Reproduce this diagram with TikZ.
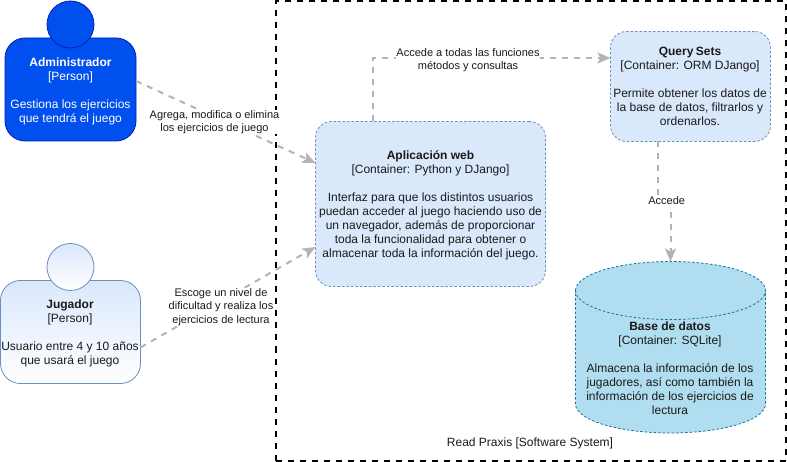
\documentclass[tikz,border=0pt]{standalone}
\usepackage{fontspec}
\setmainfont{Liberation Sans}
\usetikzlibrary{arrows.meta}
\definecolor{admfill}{HTML}{0050EF}
\definecolor{admline}{HTML}{001DBC}
\definecolor{contfill}{HTML}{DAE8FC}
\definecolor{contline}{HTML}{6C8EBF}
\definecolor{dbfill}{HTML}{B1DDF0}
\definecolor{dbline}{HTML}{10739E}
\definecolor{conn}{HTML}{B3B3B3}
\definecolor{ink}{HTML}{1A1A1A}
\tikzset{
  every node/.style={outer sep=0pt},
  txt/.style={align=center,inner sep=0pt,text=ink,font=\fontsize{12}{14}\selectfont},
  whitetxt/.style={txt,text=white},
  lbl/.style={align=center,inner sep=0.5pt,fill=white,text=ink,font=\fontsize{11}{13.2}\selectfont},
  adminbody/.style={draw=admline,fill=admfill,rounded corners=20pt,line width=0.8pt,minimum width=131pt,minimum height=103pt,inner sep=0pt},
  adminhead/.style={draw=admline,fill=admfill,circle,line width=0.8pt,minimum size=47pt,inner sep=0pt},
  playerbody/.style={draw=contline,top color=contfill,bottom color=white,rounded corners=20pt,line width=0.8pt,minimum width=140pt,minimum height=103pt,inner sep=0pt},
  playerhead/.style={draw=contline,top color=contfill,bottom color=white,circle,line width=0.8pt,minimum size=47pt,inner sep=0pt},
  contbox/.style={draw=contline,fill=contfill,rounded corners=16pt,line width=0.8pt,dash pattern=on 2.5pt off 2pt,inner sep=0pt},
  sysbox/.style={draw=black,line width=2pt,dash pattern=on 6pt off 6pt,minimum width=510pt,minimum height=459pt,inner sep=0pt},
  dbshape/.style={draw=dbline,fill=dbfill,line width=0.8pt,dash pattern=on 2.5pt off 2pt},
  conntr/.style={draw=conn,line width=2pt,dash pattern=on 6pt off 6pt,-{Stealth[length=13pt,width=11pt,inset=3pt]}},
}
\begin{document}
\begin{tikzpicture}[x=1pt,y=-1pt]
\useasboundingbox (0,0) rectangle (787,462);
\fill[white] (0,0) rectangle (787,462);
% system boundary
\node[sysbox,anchor=north west] (sys) at (275.5,1.5) {};
\node[txt] (systxt) at (530,443) {Read Praxis [Software System]};
% persons
\node[adminbody,anchor=north west] (adm) at (5,38) {};
\node[adminhead] (admh) at (70.5,24.5) {};
\node[whitetxt] (admt) at (70.5,91.5) {\textbf{Administrador}\\{[Person]}\\[14pt]Gestiona los ejercicios\\que tendrá el juego};
\node[playerbody,anchor=north west] (pla) at (0.5,280.5) {};
\node[playerhead] (plah) at (70.5,267) {};
\node[txt] (plat) at (70,333) {\textbf{Jugador}\\{[Person]}\\[14pt]Usuario entre 4 y 10 años\\que usará el juego};
% containers
\node[contbox,anchor=north west,minimum width=230pt,minimum height=165pt] (app) at (315.5,121.5) {};
\node[txt] (appt) at (430.5,205) {\textbf{Aplicación web}\\{[Container: Python y DJango]}\\[14pt]Interfaz para que los distintos usuarios\\puedan acceder al juego haciendo uso de\\un navegador, además de proporcionar\\toda la funcionalidad para obtener o\\almacenar toda la información del juego.};
\node[contbox,anchor=north west,minimum width=160pt,minimum height=110pt] (qs) at (610.5,31.5) {};
\node[txt] (qst) at (690,86.7) {\textbf{Query\kern-1pt\ Sets}\\{[Container: ORM DJango]}\\[14pt]Permite obtener los datos de\\la base de datos, filtrarlos y\\ordenarlos.};
% database
\coordinate (dbtop) at (670.5,261.5);
\path[dbshape] (575.5,290.5) .. controls (575.5,274.5) and (618,261.5) .. (670.5,261.5)
  .. controls (723,261.5) and (765.5,274.5) .. (765.5,290.5) -- (765.5,404)
  .. controls (765.5,420) and (723,433) .. (670.5,433)
  .. controls (618,433) and (575.5,420) .. (575.5,404) -- cycle;
\path[dbshape,fill=none] (575.5,290.5) .. controls (575.5,306.5) and (618,319.5) .. (670.5,319.5)
  .. controls (723,319.5) and (765.5,306.5) .. (765.5,290.5);
\node[txt] (dbt) at (670,368) {\textbf{Base de datos}\\{[Container: SQLite]}\\[14pt]Almacena la información de los\\jugadores, así como también la\\información de los ejercicios de\\lectura};
% connectors
\draw[conntr] ([yshift=8.5pt]adm.east) -- ([yshift=41pt]app.west);
\node[lbl] (l1) at (214.5,122) {Agrega, modifica o elimina\\los ejercicios de juego};
\draw[conntr] ([yshift=-15.5pt]pla.east) -- ([yshift=-43pt]app.west);
\node[lbl] (l2) at (221,307) {Escoge un nivel de\\dificultad y realiza los\\ejercicios de lectura};
\coordinate (c1) at (373,58);
\coordinate (c2) at (qs.west |- c1);
\draw[conntr] ([xshift=-57.5pt]app.north) -- (c1) -- (c2);
\node[lbl] (l3) at (468,60) {Accede a todas las funciones\\métodos y consultas};
\coordinate (c3) at (657.5,201);
\coordinate (c4) at (dbtop |- c3);
\draw[conntr] ([xshift=-33pt]qs.south) -- (c3) -- (c4) -- (dbtop);
\node[lbl] (l4) at (666.7,201) {Accede};
\end{tikzpicture}
\end{document}
